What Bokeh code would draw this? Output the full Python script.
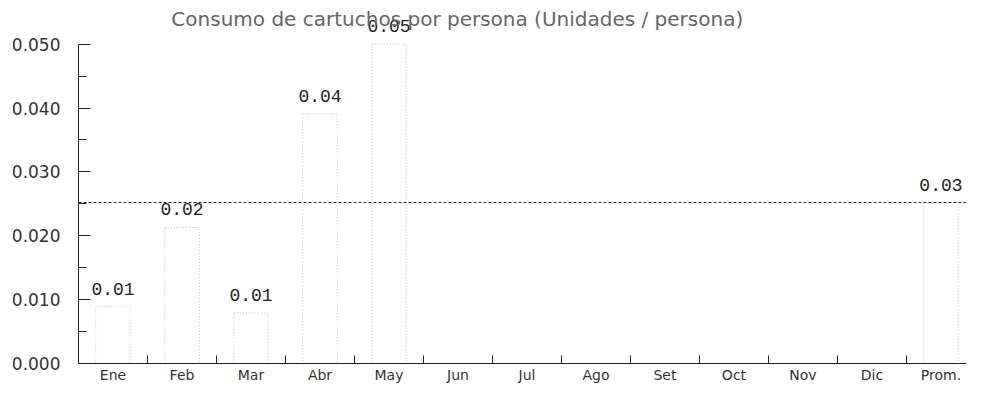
from bokeh.plotting import figure
from bokeh.models import (Range1d, FixedTicker, NumeralTickFormatter, Span,
                          LabelSet, Label, ColumnDataSource)
from bokeh.core.properties import value
from bokeh.embed import file_html
from bokeh.resources import INLINE

categories = ["Ene", "Feb", "Mar", "Abr", "May", "Jun", "Jul", "Ago",
              "Set", "Oct", "Nov", "Dic", "Prom."]
values = [0.0089, 0.0213, 0.0079, 0.0391, 0.0500, 0, 0, 0, 0, 0, 0, 0, 0.0252]
average = 0.0252
y_ticks = [0.0, 0.01, 0.02, 0.03, 0.04, 0.05]
y_minor = [0.005, 0.015, 0.025, 0.035, 0.045]
title_text = "Consumo de cartuchos por persona (Unidades / persona)"

xs = [i + 0.5 for i in range(len(categories))]
src = ColumnDataSource(dict(x=xs, top=values))
lab_x = [x for x, v in zip(xs, values) if v > 0]
lab_y = [v for v in values if v > 0]
lab_t = ["%.2f" % v for v in lab_y]
lab_src = ColumnDataSource(dict(x=lab_x, y=lab_y, t=lab_t))

# frame: left edge at 78px, axis bottom at 366px, value 0.05 at 44px
y_top = 0.05 * 366.0 / 322.0

p = figure(width=966, height=385, output_backend="svg", toolbar_location=None,
           x_range=Range1d(0, 12.87), y_range=Range1d(0, y_top),
           min_border_left=78, min_border_right=0, min_border_top=0,
           min_border_bottom=19)
p.outline_line_color = None
p.xgrid.visible = False
p.ygrid.visible = False
p.background_fill_color = "white"

p.vbar(x="x", top="top", width=0.5, bottom=0, source=src,
       fill_color="white", line_color="#c4c4c4", line_dash="1 2", line_width=1)

p.add_layout(Span(location=average, dimension="width", line_color="#222222",
                  line_dash="3 2", line_width=1))

# x axis: labels at centres, tick marks at category boundaries
xa = p.xaxis[0]
xa.ticker = FixedTicker(ticks=xs, minor_ticks=list(range(1, len(categories))))
xa.major_label_overrides = {x: c for x, c in zip(xs, categories)}
xa.major_tick_in = 0
xa.major_tick_out = 0
xa.minor_tick_in = 8
xa.minor_tick_out = 0
xa.minor_tick_line_color = "#222222"
xa.axis_line_color = "#222222"
xa.major_label_standoff = 3
xa.major_label_text_font = "DejaVu Sans"
xa.major_label_text_font_size = "14px"
xa.major_label_text_color = "#333333"

ya = p.yaxis[0]
ya.ticker = FixedTicker(ticks=y_ticks, minor_ticks=y_minor)
ya.formatter = NumeralTickFormatter(format="0.000")
ya.bounds = (0, 0.05)
ya.major_tick_in = 12
ya.major_tick_out = 0
ya.minor_tick_in = 8
ya.minor_tick_out = 0
ya.major_tick_line_color = "#222222"
ya.minor_tick_line_color = "#222222"
ya.axis_line_color = "#222222"
ya.major_label_standoff = 18
ya.major_label_text_font = "DejaVu Sans"
ya.major_label_text_font_size = "17px"
ya.major_label_text_color = "#333333"

p.add_layout(LabelSet(x="x", y="y", text="t", source=lab_src, y_offset=12,
                      text_align="center", text_baseline="bottom",
                      text_font=value("Liberation Mono"), text_font_size="18px",
                      text_color="#222222"))

p.add_layout(Label(x=5.49, y=0.05, y_offset=25, text=title_text,
                   text_align="center", text_baseline="middle",
                   text_font="DejaVu Sans", text_font_size="20px",
                   text_color="#666666"))

open("out.html", "w").write(file_html(p, INLINE))
